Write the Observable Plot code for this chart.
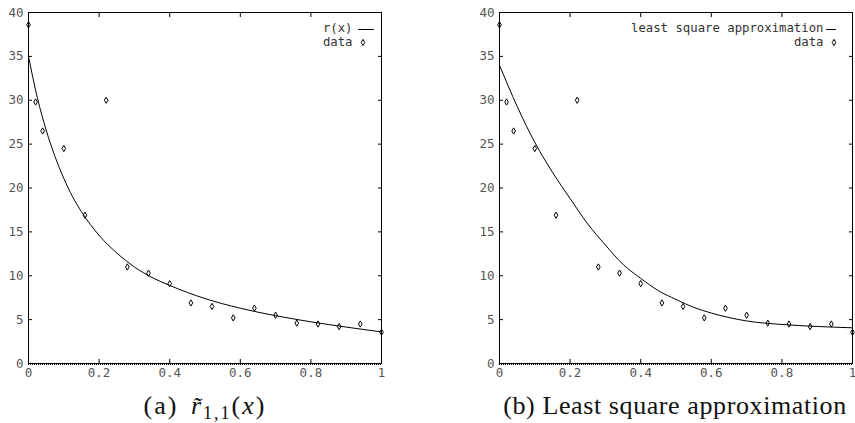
<!DOCTYPE html>
<html>
<head>
<meta charset="utf-8">
<script src="https://cdn.jsdelivr.net/npm/d3@7"></script>
<script src="https://cdn.jsdelivr.net/npm/@observablehq/plot@0.6"></script>
<style>
  html, body { margin: 0; padding: 0; background: white; }
  #page { position: relative; width: 855px; height: 423px; overflow: hidden; background: white; }
  .panel { position: absolute; top: 0; }
  .cap { position: absolute; top: 393px; text-align: center; font-family: "Liberation Serif", serif;
         font-size: 26px; line-height: 26px; color: #111; white-space: nowrap; letter-spacing: 0.6px; }
  .cap sub { font-size: 18px; vertical-align: -5px; line-height: 0; }
  #ca { letter-spacing: 2px; word-spacing: 4px; }
</style>
</head>
<body>
<div id="page">
  <div id="pa" class="panel" style="left:0px"></div>
  <div id="pb" class="panel" style="left:471px"></div>
  <div id="ca" class="cap" style="left:105px; width:200px"></div>
  <div id="cb" class="cap" style="left:475px; width:400px"></div>
</div>
<script>
// ---- data ----
const dataX = [0, 0.02, 0.04, 0.10, 0.16, 0.22, 0.28, 0.34, 0.40, 0.46, 0.52, 0.58, 0.64, 0.70, 0.76, 0.82, 0.88, 0.94, 1.00];
const dataY = [38.6, 29.8, 26.5, 24.5, 16.9, 30.0, 11.0, 10.3, 9.1, 6.9, 6.5, 5.2, 6.3, 5.5, 4.6, 4.5, 4.2, 4.5, 3.55];

// rational approximation r(x) (panel a)
const ratX = [0, 0.025, 0.05, 0.075, 0.1, 0.125, 0.15, 0.2, 0.25, 0.3, 0.35, 0.4, 0.5, 0.6, 0.7, 0.8, 0.9, 1.0];
const ratY = [35.0, 30.3, 26.6, 23.6, 21.1, 19.0, 17.3, 14.6, 12.6, 11.0, 9.8, 8.9, 7.4, 6.3, 5.45, 4.75, 4.15, 3.6];

// least square approximation (panel b)
const lsqX = [0, 0.05, 0.1, 0.15, 0.2, 0.25, 0.3, 0.35, 0.4, 0.45, 0.5, 0.55, 0.6, 0.7, 0.8, 0.9, 1.0];
const lsqY = [34.0, 29.3, 25.2, 21.8, 18.8, 15.9, 13.5, 11.3, 9.7, 8.3, 7.3, 6.4, 5.75, 4.85, 4.45, 4.22, 4.07];

const xTicks = [0, 0.2, 0.4, 0.6, 0.8, 1];
const yTicks = [0, 5, 10, 15, 20, 25, 30, 35, 40];
const legendA = ["r(x)", "data"];
const legendB = ["least square approximation", "data"];

const points = dataX.map((x, i) => ({x, y: dataY[i]}));
const toRows = (xs, ys) => xs.map((x, i) => ({x, y: ys[i]}));

const lineShape = {draw(ctx, l) { ctx.moveTo(-l, 0); ctx.lineTo(0, 0); }};
const mono = "'DejaVu Sans Mono', monospace";

function panel(curveRows, legend, width, marginRight, lineDx, lineLen) {
  return Plot.plot({
    width, height: 388,
    marginLeft: 28, marginRight, marginTop: 12, marginBottom: 25,
    x: {domain: [0, 1], label: null},
    y: {domain: [0, 40], label: null},
    style: {fontFamily: mono, fontSize: "12.5px", background: "white", overflow: "visible"},
    marks: [
      Plot.ruleY([0], {stroke: "black", strokeDasharray: "1,1", dy: 1}),
      Plot.frame({stroke: "black"}),
      Plot.axisX({anchor: "bottom", ticks: xTicks, tickSize: -4, tickPadding: 9, tickFormat: d => String(d), stroke: "black", fill: "#555", label: null}),
      Plot.axisX({anchor: "top", ticks: xTicks, tickSize: -4, tickFormat: () => "", stroke: "black", label: null}),
      Plot.axisY({anchor: "left", ticks: yTicks, tickSize: -4, tickPadding: 9, tickFormat: d => String(d), stroke: "black", fill: "#555", label: null}),
      Plot.axisY({anchor: "right", ticks: yTicks, tickSize: -4, tickFormat: () => "", stroke: "black", label: null}),
      Plot.line(curveRows, {x: "x", y: "y", curve: "monotone-x", stroke: "black", strokeWidth: 1}),
      Plot.dot(points, {x: "x", y: "y", symbol: "diamond", r: 1.9, stroke: "black", strokeWidth: 1, fill: "none"}),
      // legend
      Plot.text([legend[0]], {frameAnchor: "top-right", dx: -29, dy: 15.5, textAnchor: "end", lineAnchor: "middle", fill: "#333", fontSize: 12.3, fontFamily: mono}),
      Plot.text([legend[1]], {frameAnchor: "top-right", dx: -29, dy: 29.5, textAnchor: "end", lineAnchor: "middle", fill: "#333", fontSize: 12.3, fontFamily: mono}),
      Plot.vector([0], {frameAnchor: "top-right", dx: lineDx, dy: 17, length: lineLen, rotate: 0, anchor: "start", shape: lineShape, stroke: "black", strokeWidth: 1}),
      Plot.dot([0], {frameAnchor: "top-right", dx: -18.5, dy: 30, symbol: "diamond", r: 1.9, stroke: "black", strokeWidth: 1, fill: "none"})
    ]
  });
}

document.getElementById("pa").append(panel(toRows(ratX, ratY), legendA, 395, 14, -8, 15));
document.getElementById("pb").append(panel(toRows(lsqX, lsqY), legendB, 384, 3, -17, 9));

document.getElementById("ca").innerHTML = "(a) <i>r&#771;</i><sub>1,1</sub>(<i>x</i>)";
document.getElementById("cb").innerHTML = "(b) Least square approximation";
</script>
</body>
</html>
